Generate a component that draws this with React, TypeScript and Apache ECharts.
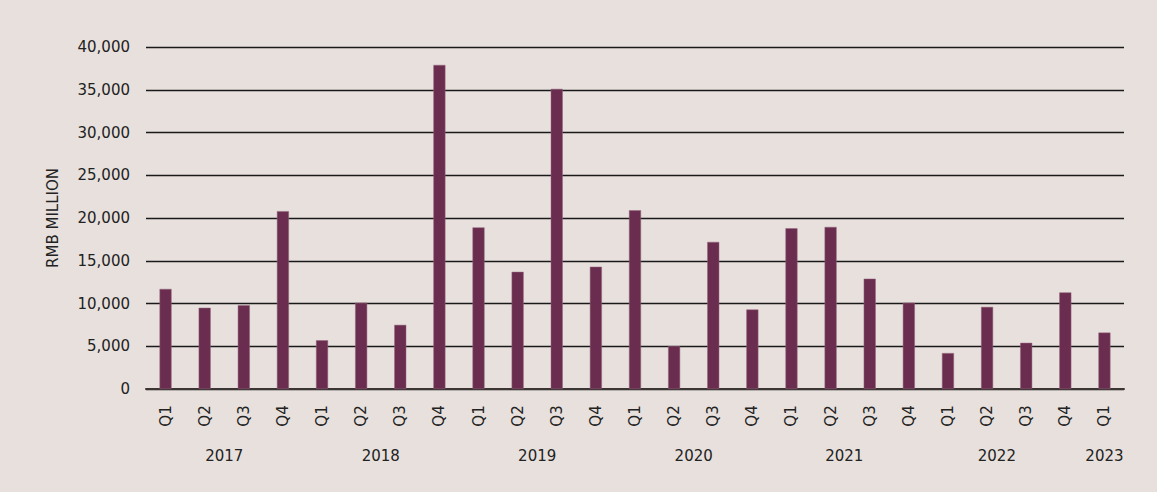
import React, { useEffect, useRef } from "react";
import * as echarts from "echarts";

const quarters = [
  "Q1", "Q2", "Q3", "Q4",
  "Q1", "Q2", "Q3", "Q4",
  "Q1", "Q2", "Q3", "Q4",
  "Q1", "Q2", "Q3", "Q4",
  "Q1", "Q2", "Q3", "Q4",
  "Q1", "Q2", "Q3", "Q4",
  "Q1",
];
const values = [
  11700, 9500, 9800, 20800,
  5700, 10100, 7500, 37900,
  18900, 13700, 35100, 14300,
  20900, 5000, 17200, 9300,
  18800, 18950, 12900, 10100,
  4200, 9600, 5400, 11300,
  6600,
];
const years = ["2017", "2018", "2019", "2020", "2021", "2022", "2023"];
const yearPositions = [2, 6, 10, 14, 17.85, 21.75, 24.5];
const yAxisName = "RMB MILLION";

const FONT = "'DejaVu Sans', sans-serif";

export default function App() {
  const ref = useRef<HTMLDivElement>(null);
  useEffect(() => {
    document.body.style.margin = "0";
    const chart = echarts.init(ref.current!, null, { renderer: "svg" });
    chart.setOption({
      animation: false,
      backgroundColor: "#e7e0dc",
      grid: { left: 146, right: 33, top: 47, bottom: 103, containLabel: false },
      xAxis: [
        {
          type: "category",
          data: quarters,
          axisLine: { show: true, lineStyle: { color: "#3b3533", width: 2 } },
          axisTick: { show: false },
          axisLabel: {
            rotate: 90,
            align: "center",
            verticalAlign: "middle",
            margin: 27,
            fontSize: 15,
            fontFamily: FONT,
            color: "#222",
            interval: 0,
          },
        },
        {
          type: "value",
          position: "bottom",
          min: 0,
          max: 25,
          axisLine: { show: false },
          axisTick: { show: false },
          splitLine: { show: false },
          axisLabel: {
            customValues: yearPositions,
            formatter: (v: number) => {
              const i = yearPositions.findIndex((p) => Math.abs(p - v) < 1e-6);
              return i >= 0 ? years[i] : "";
            },
            verticalAlign: "middle",
            margin: 67,
            fontSize: 15,
            fontFamily: FONT,
            color: "#222",
          },
        },
      ],
      yAxis: {
        type: "value",
        min: 0,
        max: 40000,
        interval: 5000,
        name: yAxisName,
        nameLocation: "middle",
        nameGap: 86,
        nameTextStyle: { fontSize: 15, fontFamily: FONT, color: "#222" },
        axisLine: { show: false },
        axisTick: { show: false },
        axisLabel: {
          margin: 16,
          fontSize: 15,
          fontFamily: FONT,
          color: "#222",
          formatter: (v: number) => v.toLocaleString("en-US"),
        },
        splitLine: { lineStyle: { color: "#1a1a1a", width: 1.3 } },
      },
      series: [
        {
          type: "bar",
          data: values,
          barWidth: 12,
          itemStyle: { color: "#6b2d4f", borderColor: "#94657d", borderWidth: 0.5 },
        },
      ],
    });
    return () => chart.dispose();
  }, []);
  return <div ref={ref} style={{ width: 1157, height: 492 }} />;
}
